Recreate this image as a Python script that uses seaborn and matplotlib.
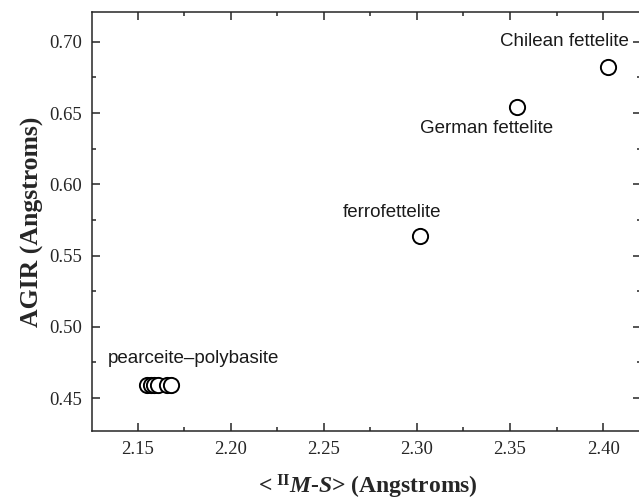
import pandas as pd
import matplotlib
matplotlib.use('Agg')
import matplotlib.pyplot as plt
import seaborn as sns
from matplotlib.ticker import MultipleLocator

# valores
mineral = ['pearceite-polybasite'] * 6 + ['ferrofettelite', 'German fettelite', 'Chilean fettelite']
mean_ms = [2.155, 2.157, 2.159, 2.161, 2.166, 2.168, 2.3015, 2.354, 2.4025]
agir = [0.459, 0.459, 0.459, 0.459, 0.459, 0.459, 0.5637, 0.654, 0.6825]

label_text = ['pearceite\u2013polybasite', 'ferrofettelite', 'German fettelite', 'Chilean fettelite']
label_x = [2.180, 2.2864, 2.3376, 2.379]
label_y = [0.4778, 0.580, 0.6395, 0.700]

df = pd.DataFrame({'mineral': mineral, 'ms': mean_ms, 'agir': agir})

sns.set_style('ticks')
plt.rcParams['font.family'] = ['Liberation Serif', 'DejaVu Serif']
plt.rcParams['mathtext.fontset'] = 'custom'
plt.rcParams['mathtext.rm'] = 'Liberation Serif:bold'
plt.rcParams['mathtext.bf'] = 'Liberation Serif:bold'
plt.rcParams['mathtext.it'] = 'Liberation Serif:italic:bold'

fig = plt.figure(figsize=(6.39, 5.04), dpi=100)
ax = fig.add_axes([0.1435, 0.1448, 0.86, 0.831])

sns.scatterplot(data=df, x='ms', y='agir', ax=ax, s=120, facecolor='white',
                edgecolor='black', linewidth=1.4, legend=False, zorder=3)

for t, x, y in zip(label_text, label_x, label_y):
    ax.text(x, y, t, ha='center', va='center', fontsize=13.5,
            family=['Liberation Sans', 'DejaVu Sans'], color='#1a1a1a')

ax.set_xlim(2.1253, 2.4205)
ax.set_ylim(0.4269, 0.7208)
ax.xaxis.set_major_locator(MultipleLocator(0.05))
ax.xaxis.set_minor_locator(MultipleLocator(0.025))
ax.yaxis.set_major_locator(MultipleLocator(0.05))
ax.yaxis.set_minor_locator(MultipleLocator(0.025))
ax.xaxis.set_major_formatter(matplotlib.ticker.FormatStrFormatter('%.2f'))
ax.yaxis.set_major_formatter(matplotlib.ticker.FormatStrFormatter('%.2f'))

ax.tick_params(which='both', direction='in', top=True, right=True, width=1.1, labelsize=13.5, pad=7)
ax.tick_params(which='major', length=5.5)
ax.tick_params(which='minor', length=3)
for sp in ax.spines.values():
    sp.set_linewidth(1.1)
    sp.set_visible(True)

ax.set_xlabel(r'$<^{\mathrm{II}}\mathit{M}$-$\mathit{S}$> (Angstroms)', fontsize=17,
              fontweight='bold', labelpad=11)
ax.set_ylabel('AGIR (Angstroms)', fontsize=18.5, fontweight='bold', labelpad=4)

fig.savefig('out.png', dpi=100)
